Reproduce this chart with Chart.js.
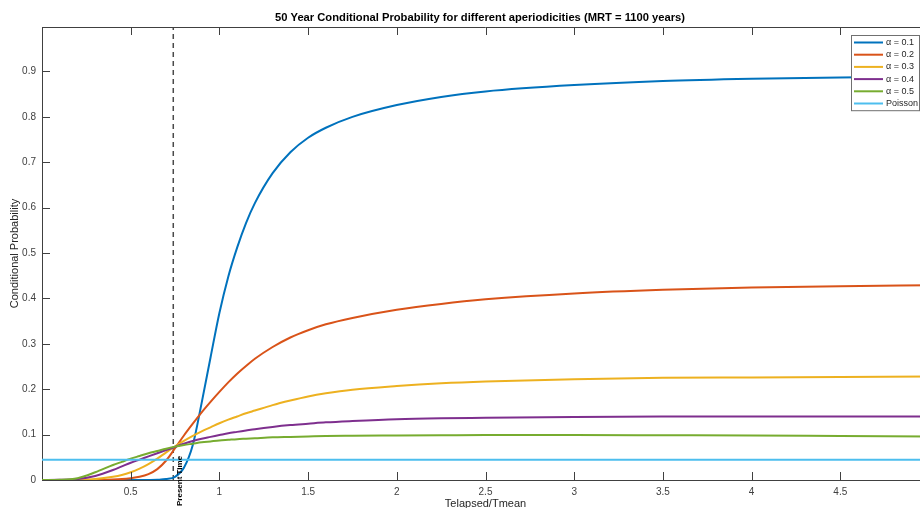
<!DOCTYPE html>
<html>
<head>
<meta charset="utf-8">
<script src="https://cdn.jsdelivr.net/npm/chart.js@4/dist/chart.umd.min.js"></script>
<style>
  html, body { margin: 0; padding: 0; overflow: hidden; background: #fff; }
  #wrap { position: relative; width: 930px; height: 508px; }
</style>
</head>
<body>
<div id="wrap"><canvas id="c"></canvas></div>
<script>
// Elapsed time as a fraction of the mean recurrence time
const tElapsed = [0, 0.1, 0.2, 0.3, 0.4, 0.45, 0.5, 0.55, 0.6, 0.65, 0.7, 0.75, 0.8, 0.85, 0.9, 0.95,
                  1.0, 1.05, 1.1, 1.15, 1.2, 1.3, 1.4, 1.5, 1.6, 1.75, 2.0, 2.25, 2.5, 3.0, 3.5, 4.0, 4.5, 5.0];

// 50-year conditional probability for each aperiodicity
const alpha01 = [0, 0, 0, 0, 0, 0, 0, 0, 0.0002, 0.0006, 0.002, 0.007, 0.027, 0.077, 0.170, 0.270,
                 0.368, 0.448, 0.512, 0.566, 0.610, 0.676, 0.722, 0.754, 0.776, 0.800, 0.826, 0.844, 0.856, 0.870, 0.879, 0.884, 0.887, 0.889];
const alpha02 = [0, 0, 0, 0, 0.001, 0.002, 0.004, 0.007, 0.013, 0.024, 0.043, 0.070, 0.098, 0.124, 0.149, 0.172,
                 0.194, 0.215, 0.234, 0.251, 0.267, 0.293, 0.314, 0.330, 0.343, 0.357, 0.375, 0.388, 0.398, 0.411, 0.419, 0.424, 0.427, 0.429];
const alpha03 = [0, 0, 0.0003, 0.002, 0.007, 0.011, 0.017, 0.025, 0.035, 0.047, 0.061, 0.074, 0.086, 0.097, 0.107, 0.116,
                 0.125, 0.133, 0.140, 0.147, 0.153, 0.165, 0.175, 0.184, 0.191, 0.199, 0.207, 0.213, 0.217, 0.222, 0.225, 0.226, 0.227, 0.228];
const alpha04 = [0, 0.0003, 0.002, 0.009, 0.022, 0.030, 0.038, 0.045, 0.052, 0.059, 0.066, 0.073, 0.080, 0.086, 0.091, 0.095,
                 0.099, 0.103, 0.106, 0.109, 0.112, 0.117, 0.121, 0.124, 0.127, 0.130, 0.134, 0.136, 0.137, 0.139, 0.140, 0.140, 0.140, 0.140];
const alpha05 = [0, 0.0005, 0.004, 0.017, 0.033, 0.040, 0.047, 0.053, 0.059, 0.064, 0.069, 0.0735, 0.077, 0.080, 0.083, 0.085,
                 0.087, 0.0885, 0.090, 0.091, 0.092, 0.094, 0.095, 0.096, 0.097, 0.0975, 0.098, 0.0985, 0.099, 0.099, 0.0985, 0.098, 0.097, 0.096];

// Time-independent (Poisson) probability
const poissonT = [0, 5];
const poissonP = [0.0445, 0.0445];

// Present elapsed time marker
const presentTime = 0.74;

const chartTitle = '50 Year Conditional Probability for different aperiodicities (MRT = 1100 years)';
const seriesLabels = ['\u03b1 = 0.1', '\u03b1 = 0.2', '\u03b1 = 0.3', '\u03b1 = 0.4', '\u03b1 = 0.5', 'Poisson'];
const seriesColors = ['#0072BD', '#D95319', '#EDB120', '#7E2F8E', '#77AC30', '#4DBEEE'];

const xTickValues = [0.5, 1, 1.5, 2, 2.5, 3, 3.5, 4, 4.5];
const xTickLabels = ['0.5', '1', '1.5', '2', '2.5', '3', '3.5', '4', '4.5'];
const yTickValues = [0, 0.1, 0.2, 0.3, 0.4, 0.5, 0.6, 0.7, 0.8, 0.9];
const yTickLabels = ['0', '0.1', '0.2', '0.3', '0.4', '0.5', '0.6', '0.7', '0.8', '0.9'];

const FONT = '"Liberation Sans", Arial, Helvetica, sans-serif';
const AXIS_COLOR = '#404040';

const toPoints = (xs, ys) => xs.map((x, i) => ({ x: x, y: ys[i] }));
const curves = [alpha01, alpha02, alpha03, alpha04, alpha05];

const datasets = curves.map((ys, i) => ({
  label: seriesLabels[i],
  data: toPoints(tElapsed, ys),
  borderColor: seriesColors[i],
  borderWidth: 2,
  pointRadius: 0,
  cubicInterpolationMode: 'monotone',
  fill: false,
  order: 10 - i
}));
datasets.push({
  label: seriesLabels[5],
  data: toPoints(poissonT, poissonP),
  borderColor: seriesColors[5],
  borderWidth: 2,
  pointRadius: 0,
  fill: false,
  order: 4
});
datasets.push({
  label: 'Present Time',
  data: [{ x: presentTime, y: 0 }, { x: presentTime, y: 1 }],
  borderColor: '#4a4a4a',
  borderWidth: 1.5,
  borderDash: [5, 4],
  pointRadius: 0,
  fill: false,
  order: 20,
  isMarker: true
});

// Title centred a little left of the plot-area centre
const titleText = {
  id: 'titleText',
  afterDraw(chart) {
    const { ctx } = chart;
    ctx.save();
    ctx.font = 'bold 11.2px ' + FONT;
    ctx.fillStyle = '#000';
    ctx.textAlign = 'center';
    ctx.textBaseline = 'middle';
    ctx.fillText(chartTitle, 480, 18);
    ctx.restore();
  }
};

// Box outline on top/right plus inward tick marks on all four sides
const boxTicks = {
  id: 'boxTicks',
  afterDraw(chart) {
    const { ctx, chartArea: a } = chart;
    const xs = chart.scales.x, ys = chart.scales.y;
    const tl = 8;
    ctx.save();
    ctx.strokeStyle = AXIS_COLOR;
    ctx.lineWidth = 1;
    ctx.beginPath();
    ctx.moveTo(a.left, a.top + 0.5);
    ctx.lineTo(a.right, a.top + 0.5);
    ctx.moveTo(a.right - 0.5, a.top);
    ctx.lineTo(a.right - 0.5, a.bottom);
    xTickValues.forEach(v => {
      const px = Math.round(xs.getPixelForValue(v)) + 0.5;
      ctx.moveTo(px, a.bottom); ctx.lineTo(px, a.bottom - tl);
      ctx.moveTo(px, a.top); ctx.lineTo(px, a.top + tl);
    });
    yTickValues.forEach(v => {
      const py = Math.round(ys.getPixelForValue(v)) + 0.5;
      ctx.moveTo(a.left, py); ctx.lineTo(a.left + tl, py);
      ctx.moveTo(a.right, py); ctx.lineTo(a.right - tl, py);
    });
    ctx.stroke();
    ctx.restore();
  }
};

// Rotated caption beside the present-time marker
const presentLabel = {
  id: 'presentLabel',
  afterDraw(chart) {
    const { ctx } = chart;
    const px = chart.scales.x.getPixelForValue(presentTime);
    ctx.save();
    ctx.translate(px + 7, 506);
    ctx.rotate(-Math.PI / 2);
    ctx.font = 'bold 8px ' + FONT;
    ctx.fillStyle = '#000';
    ctx.textAlign = 'left';
    ctx.textBaseline = 'middle';
    ctx.fillText('Present Time', 0, 0);
    ctx.restore();
  }
};

// Boxed legend in the upper-right corner of the plot area
const boxLegend = {
  id: 'boxLegend',
  afterDraw(chart) {
    const { ctx, chartArea: a } = chart;
    const items = chart.data.datasets.filter(d => !d.isMarker);
    const w = 68, rowH = 12.2;
    const h = items.length * rowH + 2;
    const left = a.right - 10 - w, top = a.top + 8;
    ctx.save();
    ctx.fillStyle = '#fff';
    ctx.fillRect(left, top, w, h);
    ctx.strokeStyle = '#707070';
    ctx.lineWidth = 1;
    ctx.strokeRect(left + 0.5, top + 0.5, w, h);
    ctx.font = '9px ' + FONT;
    ctx.textBaseline = 'middle';
    ctx.textAlign = 'left';
    items.forEach((d, i) => {
      const y = top + 7.5 + i * rowH;
      ctx.strokeStyle = d.borderColor;
      ctx.lineWidth = 2;
      ctx.beginPath();
      ctx.moveTo(left + 3, y);
      ctx.lineTo(left + 32, y);
      ctx.stroke();
      ctx.fillStyle = '#262626';
      ctx.fillText(d.label, left + 35, y);
    });
    ctx.restore();
  }
};

new Chart(document.getElementById('c'), {
  type: 'line',
  data: { datasets: datasets },
  plugins: [titleText, boxTicks, presentLabel, boxLegend],
  options: {
    responsive: true,
    maintainAspectRatio: false,
    animation: false,
    devicePixelRatio: 1,
    layout: { padding: { top: 27, left: 0, right: 1, bottom: 0 } },
    plugins: {
      legend: { display: false },
      tooltip: { enabled: false },
      title: { display: false }
    },
    scales: {
      x: {
        type: 'linear',
        min: 0,
        max: 5,
        grid: { display: false, drawTicks: false },
        border: { display: true, color: AXIS_COLOR, width: 1 },
        afterBuildTicks: s => { s.ticks = xTickValues.map(v => ({ value: v })); },
        afterFit: s => { s.height = 28; },
        ticks: {
          color: AXIS_COLOR,
          font: { family: FONT, size: 10 },
          padding: 6,
          maxRotation: 0,
          autoSkip: false,
          callback: (v) => xTickLabels[xTickValues.indexOf(v)]
        },
        title: {
          display: true,
          text: 'Telapsed/Tmean',
          color: '#262626',
          font: { family: FONT, size: 11 },
          padding: { top: 0, bottom: -3 }
        }
      },
      y: {
        type: 'linear',
        min: 0,
        max: 0.998,
        grid: { display: false, drawTicks: false },
        border: { display: true, color: AXIS_COLOR, width: 1 },
        afterBuildTicks: s => { s.ticks = yTickValues.map(v => ({ value: v })); },
        afterFit: s => { s.width = 42; },
        ticks: {
          color: AXIS_COLOR,
          font: { family: FONT, size: 10 },
          padding: 6,
          autoSkip: false,
          callback: (v) => yTickLabels[yTickValues.indexOf(v)]
        },
        title: {
          display: true,
          text: 'Conditional Probability',
          color: '#262626',
          font: { family: FONT, size: 11 },
          padding: { top: 8, bottom: 0 }
        }
      }
    }
  }
});
</script>
</body>
</html>
